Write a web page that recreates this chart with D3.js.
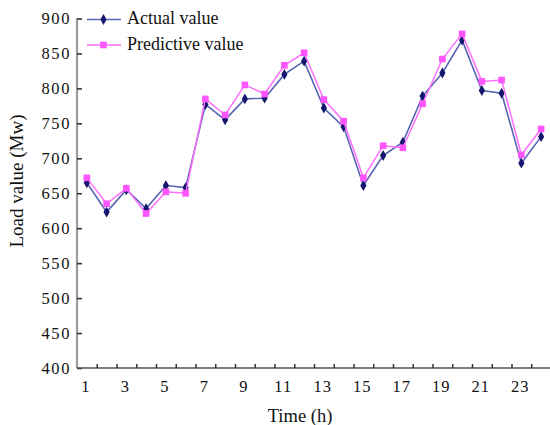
<!DOCTYPE html>
<html>
<head>
<meta charset="utf-8">
<script src="https://cdn.jsdelivr.net/npm/d3@7"></script>
<style>
  html, body { margin: 0; padding: 0; background: #fff; }
  svg { display: block; }
  text { font-family: "Liberation Serif", "Times New Roman", serif; fill: #111; }
</style>
</head>
<body>
<svg id="chart" width="550" height="425"></svg>
<script>
// ---- data ----
const hours = d3.range(1, 25);
const actualValue = [665, 623, 655, 628, 661, 658, 777, 755, 785, 786, 820, 839, 772, 745, 661, 704, 723, 789, 822, 869, 797, 793, 693, 731];
const predictiveValue = [672, 635, 657, 621, 652, 650, 785, 762, 805, 792, 833, 851, 784, 753, 672, 718, 715, 778, 842, 878, 810, 812, 705, 742];
const xTickLabels = [1, 3, 5, 7, 9, 11, 13, 15, 17, 19, 21, 23];
const xMinorTicks = d3.range(1.5, 24, 1);
const yTickValues = [400, 450, 500, 550, 600, 650, 700, 750, 800, 850, 900];
const seriesNames = ["Actual value", "Predictive value"];

const svg = d3.select("#chart");
const x = d3.scaleLinear().domain([0.5, 24.5]).range([77, 551]);
const y = d3.scaleLinear().domain([400, 900]).range([368, 18.5]);

const actualLine = "#5864b4", actualMarker = "#16166e";
const predLine = "#ff6eff", predMarker = "#ff55ff";

// y axis
const yAxis = svg.append("g").attr("transform", `translate(${x.range()[0]},0)`)
  .call(d3.axisRight(y).tickValues(yTickValues).tickSize(5).tickFormat(""));
yAxis.select(".domain").attr("stroke", "#9a9a9a").attr("stroke-width", 2.2)
  .attr("d", `M0,${y(900)}V${y(400)}`);
yAxis.selectAll(".tick line").attr("stroke", "#333").attr("stroke-width", 1.6);
svg.append("g").selectAll("text").data(yTickValues).join("text")
  .attr("x", 71).attr("y", d => y(d)).attr("dy", "0.34em")
  .attr("text-anchor", "end").attr("font-size", 16.5)
  .style("letter-spacing", "1.6px")
  .text(d => d);

// x axis
const xAxis = svg.append("g").attr("transform", `translate(0,${y(400)})`)
  .call(d3.axisTop(x).tickValues(xMinorTicks).tickSize(4).tickFormat(""));
xAxis.select(".domain").attr("stroke", "#555").attr("stroke-width", 1.6)
  .attr("d", `M${x.range()[0]},0H550`);
xAxis.selectAll(".tick line").attr("stroke", "#333").attr("stroke-width", 1.5);
svg.append("g").selectAll("text").data(xTickLabels).join("text")
  .attr("x", d => x(d) - 1).attr("y", 392)
  .attr("text-anchor", "middle").attr("font-size", 16.5)
  .style("letter-spacing", "1.2px")
  .text(d => d);

// axis titles
svg.append("text").attr("x", 300).attr("y", 422).attr("text-anchor", "middle")
  .attr("font-size", 18.5).text("Time (h)");
svg.append("text").attr("transform", "translate(23,181) rotate(-90)")
  .attr("text-anchor", "middle").attr("font-size", 19).text("Load value (Mw)");

// lines
const lineGen = vals => d3.line().x((d, i) => x(hours[i])).y(d => y(d))(vals);
const diamond = d3.symbol().type(d3.symbolDiamond).size(34);
const square = d3.symbol().type(d3.symbolSquare).size(44);

svg.append("path").attr("d", lineGen(actualValue)).attr("fill", "none")
  .attr("stroke", actualLine).attr("stroke-width", 1.6);
svg.append("g").selectAll("path").data(actualValue).join("path")
  .attr("transform", (d, i) => `translate(${x(hours[i])},${y(d)})`)
  .attr("d", diamond).attr("fill", actualMarker);

svg.append("path").attr("d", lineGen(predictiveValue)).attr("fill", "none")
  .attr("stroke", predLine).attr("stroke-width", 1.5);
svg.append("g").selectAll("path").data(predictiveValue).join("path")
  .attr("transform", (d, i) => `translate(${x(hours[i])},${y(d)})`)
  .attr("d", square).attr("fill", predMarker);

// legend
const legend = svg.append("g");
const legendItems = [
  {name: seriesNames[0], line: actualLine, marker: actualMarker, sym: diamond, yy: 19.5},
  {name: seriesNames[1], line: predLine, marker: predMarker, sym: square, yy: 45}
];
legendItems.forEach(it => {
  legend.append("line").attr("x1", 87).attr("x2", 121).attr("y1", it.yy).attr("y2", it.yy)
    .attr("stroke", it.line).attr("stroke-width", 1.6);
  legend.append("path").attr("transform", `translate(103.5,${it.yy})`).attr("d", it.sym).attr("fill", it.marker);
  legend.append("text").attr("x", 127).attr("y", it.yy + 4.8).attr("font-size", 18).text(it.name);
});
</script>
</body>
</html>
